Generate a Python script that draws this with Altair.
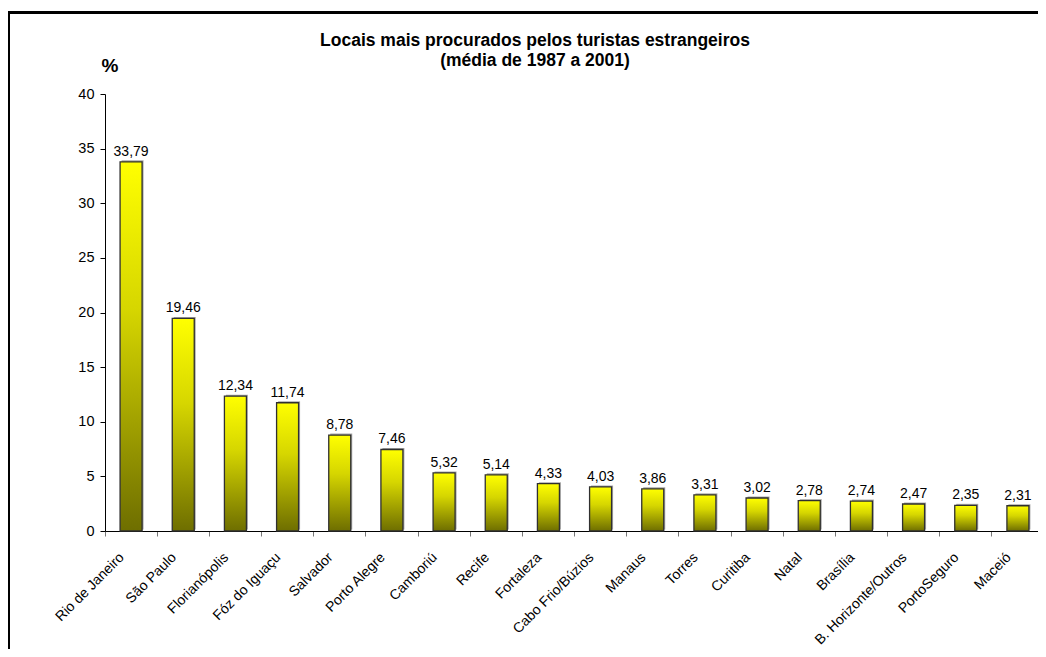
import altair as alt
import pandas as pd

locais = ["Rio de Janeiro", "São Paulo", "Florianópolis", "Fóz do Iguaçu", "Salvador",
          "Porto Alegre", "Camboriú", "Recife", "Fortaleza", "Cabo Frio/Búzios",
          "Manaus", "Torres", "Curitiba", "Natal", "Brasília", "B. Horizonte/Outros",
          "PortoSeguro", "Maceió"]
valores = [33.79, 19.46, 12.34, 11.74, 8.78, 7.46, 5.32, 5.14, 4.33, 4.03,
           3.86, 3.31, 3.02, 2.78, 2.74, 2.47, 2.35, 2.31]
y_ticks = [0, 5, 10, 15, 20, 25, 30, 35, 40]
titulo = ["Locais mais procurados pelos turistas estrangeiros", "(média de 1987 a 2001)"]
unidade = "%"

FONT = "Liberation Sans"

df = pd.DataFrame({"local": locais, "valor": valores})
one = pd.DataFrame({"a": [0]})

x_enc = alt.X("local:N", sort=locais,
              scale=alt.Scale(range=[0, 939], paddingInner=0, paddingOuter=0),
              axis=alt.Axis(title=None, labelAngle=-45, labelFontSize=14, labelFont=FONT,
                            labelColor="black", tickSize=5, tickColor="#777777",
                            bandPosition=0, domainColor="black", labelPadding=14,
                            labelOffset=-14))
y_enc = alt.Y("valor:Q", scale=alt.Scale(domain=[0, 40], nice=False),
              axis=alt.Axis(title=None, values=y_ticks, labelFontSize=14.5, labelFont=FONT,
                            labelColor="black", tickSize=5, tickColor="black",
                            domainColor="black", grid=False, labelPadding=6))

base = alt.Chart(df)

shadow = base.mark_bar(size=22, color="#a8a8a8", xOffset=1.5, yOffset=-1.5).encode(
    x=x_enc, y=y_enc)

grad = alt.Gradient(gradient="linear", x1=0, x2=0, y1=0, y2=1,
                    stops=[alt.GradientStop(color="#ffff00", offset=0),
                           alt.GradientStop(color="#d6d600", offset=0.4),
                           alt.GradientStop(color="#6e6e00", offset=1)])
bars = base.mark_bar(size=22, color=grad, stroke="#303030", strokeWidth=1.3).encode(
    x=x_enc, y=y_enc)

labels = base.transform_calculate(
    rotulo="replace(format(datum.valor, '.2f'), '.', ',')"
).mark_text(dy=-6, baseline="alphabetic", fontSize=14, font=FONT, color="black").encode(
    x=alt.X("local:N", sort=locais), y="valor:Q", text="rotulo:N")

title_txt = alt.Chart(one).mark_text(fontSize=17.5, fontWeight="bold", font=FONT,
                                      baseline="alphabetic", align="center",
                                      lineHeight=19.5, color="black").encode(
    x=alt.value(430), y=alt.value(-48), text=alt.value(titulo))

pct = alt.Chart(one).mark_text(fontSize=19, fontWeight="bold", font=FONT,
                                baseline="alphabetic", align="center", color="black").encode(
    x=alt.value(5), y=alt.value(-22), text=alt.value(unidade))

frame = alt.Chart(one).mark_rect(fill="transparent", stroke="black", strokeWidth=3).encode(
    x=alt.value(-96.5), x2=alt.value(1100), y=alt.value(-81.5), y2=alt.value(700))

chart = alt.layer(frame, shadow, bars, labels, title_txt, pct).properties(
    width=933, height=437,
    padding={"left": 97, "top": 86, "right": 0, "bottom": 118},
    autosize=alt.AutoSizeParams(type="none"),
    background="white",
).configure_view(strokeWidth=0)

chart.save("out.html", embed_options={"renderer": "svg", "actions": False})
